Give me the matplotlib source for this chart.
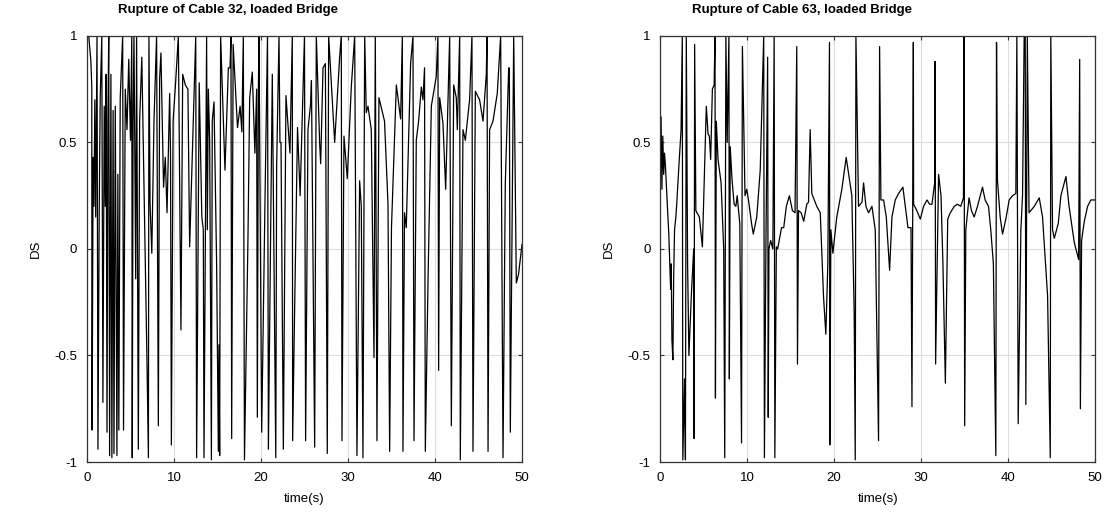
import matplotlib.pyplot as plt

plt.rcParams['font.family'] = ['Liberation Sans', 'DejaVu Sans']

# ---------------- Cable 32 (left) ----------------
t32 = [0.0, 0.2, 0.45, 0.55, 0.57, 0.62, 0.7, 0.8, 0.9, 1.0,
       1.15, 1.26, 1.4, 1.52, 1.7, 1.83, 1.98, 2.1, 2.2, 2.3,
       2.4, 2.5, 2.6, 2.7, 2.75, 2.86, 3.0, 3.1, 3.25, 3.44,
       3.55, 3.66, 3.82, 4.1, 4.2, 4.4, 4.6, 4.8, 5.0, 5.15,
       5.2, 5.3, 5.4, 5.6, 5.7, 5.9, 6.05, 6.3, 6.7, 6.9,
       7.06, 7.12, 7.25, 7.45, 7.7, 8.0, 8.2, 8.35, 8.5, 8.8,
       9.0, 9.2, 9.5, 9.6, 9.7, 9.9, 10.2, 10.5, 10.8, 11.0,
       11.3, 11.6, 11.8, 12.5, 12.6, 12.9, 13.2, 13.37, 13.45, 13.75,
       13.83, 13.95, 14.1, 14.3, 14.4, 14.6, 14.9, 15.1, 15.17, 15.25,
       15.36, 15.86, 16.25, 16.44, 16.55, 16.63, 16.8, 17.3, 17.6, 17.8,
       17.97, 18.1, 18.5, 18.7, 19.0, 19.3, 19.5, 19.58, 19.7, 19.77,
       20.08, 20.45, 20.75, 20.85, 21.3, 21.7, 21.8, 22.07, 22.18, 22.3,
       22.57, 22.87, 23.33, 23.6, 23.64, 23.83, 24.2, 24.5, 25.0, 25.13,
       25.4, 25.7, 25.8, 26.17, 26.36, 26.74, 26.86, 27.13, 27.4, 27.62,
       27.78, 28.47, 29.04, 29.23, 29.31, 29.54, 29.92, 30.38, 30.77, 31.03,
       31.34, 31.53, 31.72, 31.92, 32.1, 32.3, 32.68, 32.99, 33.14, 33.33,
       33.56, 34.2, 34.6, 34.79, 35.0, 35.56, 36.05, 36.25, 36.32, 36.5,
       36.7, 37.2, 37.47, 37.59, 37.85, 38.12, 38.43, 38.62, 38.8, 38.89,
       39.2, 39.58, 40.15, 40.34, 40.42, 40.54, 40.92, 41.23, 41.69, 41.88,
       42.15, 42.45, 42.57, 42.84, 42.91, 43.22, 43.49, 43.98, 44.25, 44.37,
       44.64, 45.13, 45.52, 45.9, 45.98, 46.1, 46.28, 46.67, 47.16, 47.55,
       47.82, 48.08, 48.47, 48.55, 48.66, 48.9, 49.05, 49.35, 49.6, 50.0]
ds32 = [1.0, 1.0, 0.88, 0.76, -0.85, -0.5, 0.43, 0.2, 0.7, 0.15,
        1.0, -0.94, 0.15, 0.71, 1.0, -0.72, 0.67, 0.2, 0.82, -0.86,
        0.6, 1.0, -0.97, 0.2, 0.82, -0.98, 0.65, -0.96, 0.67, -0.97,
        0.35, -0.85, 0.71, 1.0, -0.85, 0.75, 0.56, 0.89, 0.51, 1.0,
        -0.98, 0.6, 1.0, -0.14, 1.0, -0.94, 0.6, 0.9, -0.07, -0.54,
        -0.98, 1.0, 0.21, -0.02, 0.6, 1.0, -0.83, 0.8, 0.92, 0.29,
        0.43, 0.17, 0.73, 0.45, -0.92, 0.6, 0.79, 1.0, -0.38, 0.82,
        0.77, 0.75, 0.01, 1.0, -0.98, 0.78, 0.15, 0.09, -0.98, 1.0,
        0.09, 0.75, 0.51, -0.99, 0.6, 0.69, -0.07, -0.95, -0.45, -0.97,
        1.0, 0.37, 0.85, 0.85, 1.0, -0.89, 0.96, 0.57, 0.67, 0.55,
        1.0, -0.99, 0.04, 0.71, 0.83, 0.45, 0.75, -0.79, 0.75, 1.0,
        -0.86, 0.2, 1.0, -0.94, 0.82, -0.98, 0.39, 1.0, 0.5, 0.5,
        -0.94, 0.72, 0.45, 1.0, -0.9, -0.38, 0.57, 0.25, 1.0, -0.9,
        0.56, 0.68, 0.79, -0.93, 1.0, 0.5, 0.4, 0.85, 0.87, -0.96,
        1.0, 0.5, 0.9, 1.0, -0.9, 0.53, 0.33, 0.76, 1.0, -0.97,
        0.32, 0.2, -0.98, 1.0, 0.64, 0.67, 0.56, -0.51, 1.0, -0.9,
        0.71, 0.6, 0.21, -0.95, 0.1, 0.77, 0.61, 1.0, -0.95, 0.17,
        0.1, 0.87, 1.0, -0.9, 0.51, 0.6, 0.76, 0.7, 0.85, -0.95,
        -0.15, 0.67, 0.81, 1.0, -0.57, 0.71, 0.59, 0.28, 1.0, -0.83,
        0.77, 0.71, 0.56, 1.0, -0.99, 0.56, 0.51, 0.7, 1.0, -0.95,
        0.74, 0.7, 0.6, 0.82, 1.0, -0.95, 0.56, 0.6, 0.73, 1.0,
        -0.98, 0.3, 0.85, 0.85, -0.86, 0.3, 1.0, -0.16, -0.12, 0.02]

# ---------------- Cable 63 (right) ----------------
t63 = [0.0, 0.1, 0.2, 0.3, 0.4, 0.5, 0.6, 0.7, 1.0, 1.1,
       1.2, 1.27, 1.35, 1.46, 1.55, 1.65, 1.8, 1.9, 2.15, 2.4,
       2.54, 2.6, 2.8, 2.9, 3.0, 3.15, 3.3, 3.6, 3.85, 3.9,
       3.96, 4.1, 4.5, 4.85, 5.3, 5.5, 5.65, 5.8, 6.0, 6.2,
       6.3, 6.35, 6.45, 6.65, 7.0, 7.3, 7.42, 7.55, 7.7, 7.9,
       7.95, 8.05, 8.25, 8.5, 8.7, 8.85, 9.15, 9.35, 9.45, 9.75,
       9.95, 10.15, 10.5, 10.7, 11.1, 11.5, 11.9, 11.98, 12.15, 12.35,
       12.42, 12.5, 12.7, 12.95, 13.1, 13.18, 13.35, 13.5, 13.95, 14.2,
       14.5, 14.85, 15.2, 15.5, 15.7, 15.78, 15.9, 16.2, 16.5, 16.85,
       17.05, 17.24, 17.43, 18.0, 18.4, 18.77, 19.04, 19.27, 19.46, 19.5,
       19.62, 19.85, 20.3, 20.88, 21.38, 22.03, 22.3, 22.42, 22.5, 22.8,
       23.2, 23.38, 23.65, 23.95, 24.34, 24.72, 25.1, 25.22, 25.37, 25.68,
       25.99, 26.37, 26.64, 27.02, 27.4, 27.9, 28.17, 28.48, 28.83, 28.94,
       29.1, 29.13, 29.5, 29.9, 30.28, 30.67, 30.97, 31.24, 31.55, 31.6,
       31.66, 32.0, 32.28, 32.5, 32.78, 33.05, 33.35, 33.8, 34.17, 34.55,
       34.86, 34.93, 35.0, 35.13, 35.5, 35.78, 36.09, 36.47, 37.05, 37.35,
       37.74, 38.0, 38.3, 38.58, 38.66, 38.77, 39.08, 39.35, 39.73, 40.12,
       40.5, 40.88, 41.0, 41.15, 41.46, 41.65, 41.84, 41.96, 42.03, 42.2,
       42.4, 43.0, 43.57, 43.95, 44.53, 44.84, 44.9, 45.1, 45.3, 45.76,
       46.06, 46.64, 47.0, 47.6, 48.1, 48.22, 48.3, 48.44, 48.75, 49.13,
       49.5, 50.0]
ds63 = [0.45, 0.62, 0.28, 0.53, 0.35, 0.45, 0.39, 0.31, 0.06, -0.07,
        -0.19, -0.07, -0.43, -0.52, -0.13, 0.09, 0.15, 0.21, 0.39, 0.56,
        1.0, -0.99, -0.61, -0.99, 1.0, -0.07, -0.5, -0.2, 0.0, -0.89,
        0.96, 0.18, 0.15, 0.01, 0.67, 0.54, 0.53, 0.42, 0.75, 0.77,
        1.0, -0.7, 0.6, 0.42, 0.31, 0.0, -0.98, 1.0, 0.5, 1.0,
        -0.61, 0.48, 0.33, 0.21, 0.2, 0.25, 0.12, -0.91, 0.95, 0.25,
        0.28, 0.23, 0.12, 0.07, 0.15, 0.37, 1.0, -0.98, 0.0, 0.9,
        -0.79, 0.0, 0.04, 0.0, 1.0, -0.98, 0.01, 0.0, 0.1, 0.1,
        0.2, 0.25, 0.18, 0.17, 0.95, -0.54, 0.18, 0.17, 0.13, 0.21,
        0.22, 0.56, 0.26, 0.2, 0.17, -0.22, -0.4, -0.07, 0.97, -0.92,
        0.09, -0.02, 0.15, 0.28, 0.43, 0.25, -0.3, -0.99, 1.0, 0.2,
        0.22, 0.31, 0.2, 0.17, 0.2, 0.09, -0.9, 0.95, 0.23, 0.23,
        0.15, -0.1, 0.15, 0.23, 0.26, 0.29, 0.2, 0.1, 0.1, -0.74,
        0.97, 0.21, 0.18, 0.14, 0.2, 0.23, 0.21, 0.21, 0.31, 0.88,
        -0.54, 0.35, 0.25, -0.07, -0.63, 0.14, 0.17, 0.2, 0.21, 0.2,
        0.24, 1.0, -0.83, 0.09, 0.24, 0.18, 0.15, 0.2, 0.29, 0.23,
        0.2, 0.09, -0.07, -0.97, 0.97, 0.32, 0.15, 0.07, 0.14, 0.23,
        0.25, 0.26, 1.0, -0.82, 0.09, 0.25, 1.0, 1.0, -0.73, 1.0,
        0.17, 0.2, 0.24, 0.15, -0.22, -0.98, 1.0, 0.09, 0.05, 0.12,
        0.25, 0.34, 0.2, 0.03, -0.05, 0.89, -0.75, 0.04, 0.13, 0.2,
        0.23, 0.23]

titles = ['Rupture of Cable 32, loaded Bridge', 'Rupture of Cable 63, loaded Bridge']
series = [(t32, ds32), (t63, ds63)]

fig = plt.figure(figsize=(11.04, 5.19), dpi=100)
axes = [fig.add_axes([0.0788, 0.1098, 0.394, 0.821]),
        fig.add_axes([0.598, 0.1098, 0.394, 0.821])]

for ax, (t, ds), title in zip(axes, series, titles):
    ax.plot(t, ds, color='black', linewidth=0.9)
    ax.set_xlim(0, 50)
    ax.set_ylim(-1, 1)
    ax.set_xticks([0, 10, 20, 30, 40, 50])
    ax.set_yticks([-1, -0.5, 0, 0.5, 1])
    ax.set_yticklabels(['-1', '-0.5', '0', '0.5', '1'])
    ax.grid(True, color='#dcdcdc', linewidth=0.8)
    ax.set_axisbelow(True)
    ax.tick_params(direction='in', length=3, top=True, right=True,
                   labelsize=9.5, pad=7, color='#333333')
    for s in ax.spines.values():
        s.set_color('#333333')
        s.set_linewidth(0.9)
    ax.set_xlabel('time(s)', fontsize=9.5, labelpad=7)
    ax.set_ylabel('DS', fontsize=9.5, labelpad=9)
    ax.text(0.325, 1.06, title, transform=ax.transAxes, ha='center',
            va='center', fontsize=9.5, fontweight='bold')

fig.savefig('out.png', dpi=100)
